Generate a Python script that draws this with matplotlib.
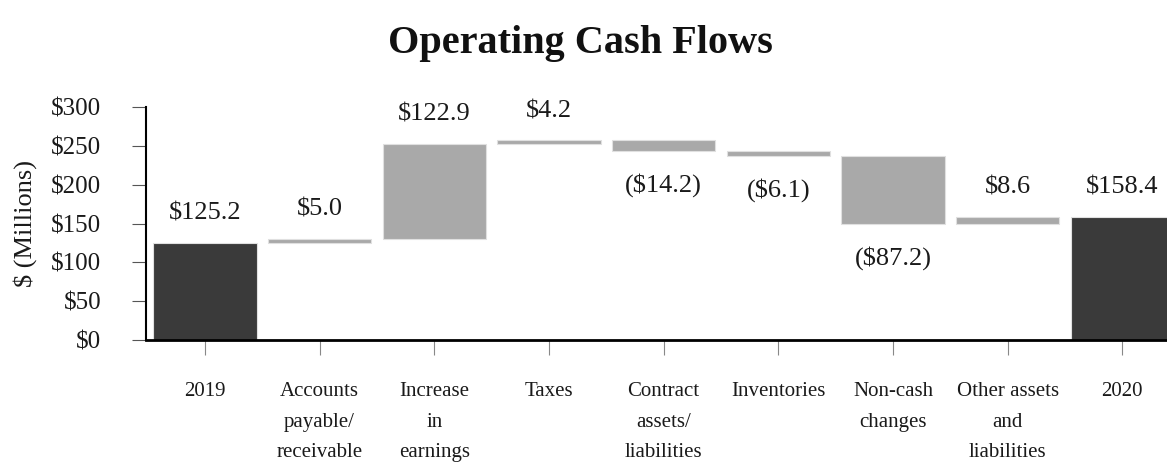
import matplotlib
matplotlib.use("Agg")
from matplotlib import pyplot as plt

# Waterfall data ($ millions)
categories = ["2019", "Accounts\npayable/\nreceivable", "Increase\nin\nearnings", "Taxes",
              "Contract\nassets/\nliabilities", "Inventories", "Non-cash\nchanges",
              "Other assets\nand\nliabilities", "2020"]
changes = [125.2, 5.0, 122.9, 4.2, -14.2, -6.1, -87.2, 8.6, 158.4]
labels = ["$125.2", "$5.0", "$122.9", "$4.2", "($14.2)", "($6.1)", "($87.2)", "$8.6", "$158.4"]
is_total = [True, False, False, False, False, False, False, False, True]

plt.rcParams['font.family'] = ['Liberation Serif', 'DejaVu Serif']

fig = plt.figure(figsize=(11.67, 4.62), dpi=100)
ax = fig.add_axes([0.125, 0.264, 0.875, 0.504])

# Compute bottoms / heights
bottoms, heights = [], []
running = 0.0
for c, tot in zip(changes, is_total):
    if tot:
        bottoms.append(0.0)
        heights.append(c)
        running = c
    elif c >= 0:
        bottoms.append(running)
        heights.append(c)
        running += c
    else:
        bottoms.append(running + c)
        heights.append(-c)
        running += c

x = list(range(len(categories)))
colors = ['#3a3a3a' if t else '#a9a9a9' for t in is_total]
ax.bar(x, heights, bottom=bottoms, width=0.9, color=colors, edgecolor='#e0e0e0', linewidth=0.8)

# Value labels
for i, (c, b, h, lab) in enumerate(zip(changes, bottoms, heights, labels)):
    if c >= 0:
        ax.annotate(lab, (i, b + h), xytext=(0, 21), textcoords='offset points',
                    ha='center', va='center', fontsize=19, color='#1a1a1a')
    else:
        ax.annotate(lab, (i, b), xytext=(0, -24.5), textcoords='offset points',
                    ha='center', va='center', fontsize=19, color='#1a1a1a')

ax.set_xlim(-0.515, 8.39)
ax.set_ylim(0, 300)
ax.set_yticks(range(0, 301, 50))
ax.set_yticklabels(['$%d' % v for v in range(0, 301, 50)], fontsize=18, color='#1a1a1a')
ax.set_xticks(x)
ax.set_xticklabels(categories, fontsize=15, linespacing=1.85, va='top', color='#1a1a1a')
ax.tick_params(axis='y', length=10, width=0.8, color='#555555', pad=22)
ax.tick_params(axis='x', length=11, width=0.8, color='#888888', pad=19)
ax.set_ylabel('$ (Millions)', fontsize=19, color='#1a1a1a', labelpad=8)
ax.yaxis.set_label_coords(-0.107, 0.5)

for s in ['top', 'right']:
    ax.spines[s].set_visible(False)
ax.spines['left'].set_linewidth(1.5)
ax.spines['bottom'].set_linewidth(2.0)

fig.text(0.497, 0.905, 'Operating Cash Flows', ha='center', va='center',
         fontsize=29, fontweight='bold', color='#111111')

fig.savefig('out.png', dpi=100)
